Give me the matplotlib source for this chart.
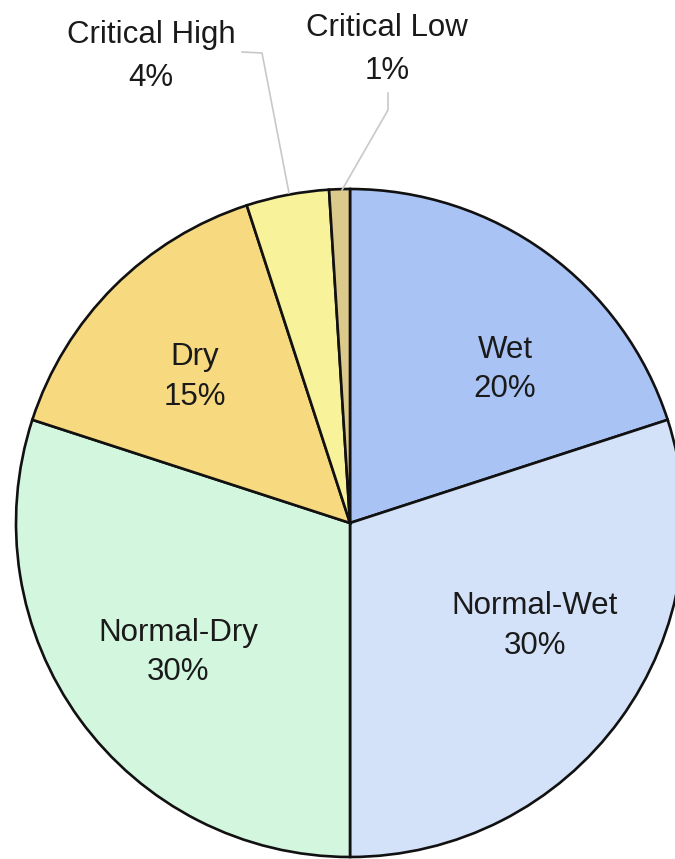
import matplotlib
matplotlib.use("Agg")
import matplotlib.pyplot as plt

categories = ["Wet", "Normal-Wet", "Normal-Dry", "Dry", "Critical High", "Critical Low"]
values = [20, 30, 30, 15, 4, 1]
colors = ["#A9C4F4", "#D3E2F8", "#D3F6DF", "#F7DA80", "#F8F29A", "#DCC98C"]

W, H = 675, 859
plt.rcParams['font.family'] = ['Liberation Sans', 'DejaVu Sans']

fig = plt.figure(figsize=(W / 100, H / 100), dpi=100)
ax = fig.add_axes([0, 0, 1, 1])
cx, cy, r = 350, H - 523, 334
ax.pie(values, colors=colors, startangle=90, counterclock=False,
       center=(cx, cy), radius=r,
       wedgeprops=dict(edgecolor="#111111", linewidth=1.9))
ax.set_xlim(0, W)
ax.set_ylim(0, H)
ax.set_aspect("equal")
ax.axis("off")

fs = 22.5
def lab(x, y, txt):
    ax.text(x, H - y, txt, ha="center", va="center", fontsize=fs, color="#1a1a1a")

# inner labels (name / percent)
inner = {
    "Wet": (505, 350, 389),
    "Normal-Wet": (535, 606, 646),
    "Normal-Dry": (178, 633, 672),
    "Dry": (195, 357, 397),
}
for i, name in enumerate(categories[:4]):
    x, y1, y2 = inner[name]
    lab(x, y1, name)
    lab(x, y2, f"{values[i]}%")

# outer labels
lab(151, 35, categories[4])
lab(151, 78, f"{values[4]}%")
lab(387, 28, categories[5])
lab(387, 71, f"{values[5]}%")

# leader lines
lc = "#C8C8C8"
ax.plot([242, 262, 289], [H - 52, H - 53, H - 193], color=lc, lw=1.2)
ax.plot([388, 388, 342], [H - 93, H - 110, H - 190], color=lc, lw=1.2)

fig.savefig("out.png", dpi=100, facecolor="white")
